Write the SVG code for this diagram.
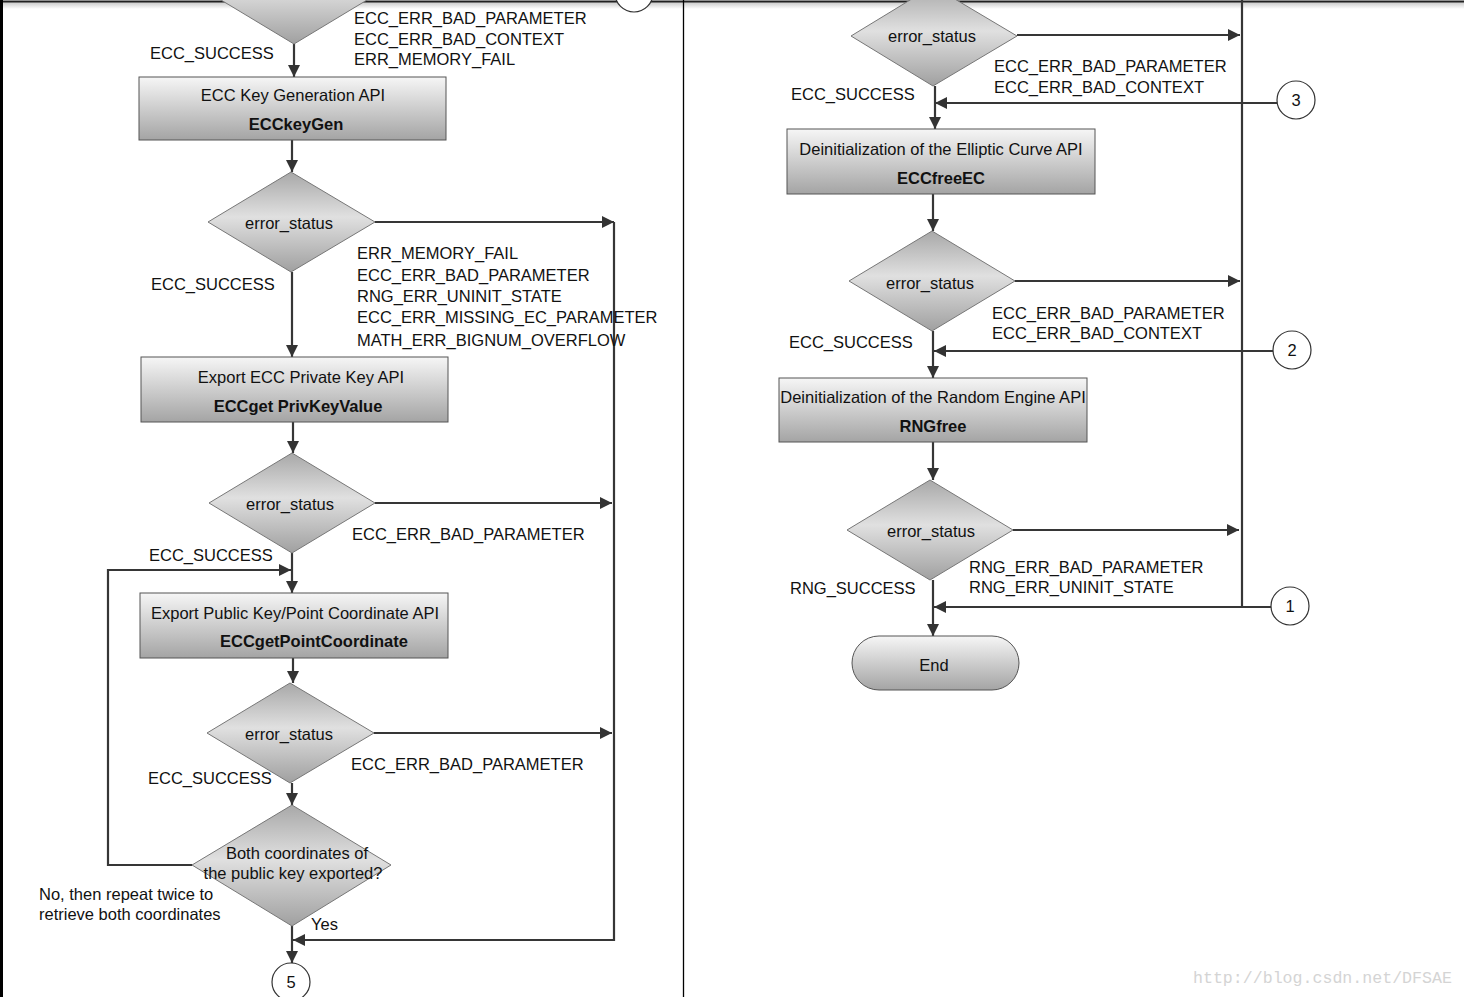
<svg xmlns="http://www.w3.org/2000/svg" width="1464" height="997" viewBox="0 0 1464 997">
<defs>
<linearGradient id="gBox" x1="0" y1="0" x2="0" y2="1">
<stop offset="0" stop-color="#f6f6f6"/>
<stop offset="1" stop-color="#a4a4a4"/>
</linearGradient>
<linearGradient id="gDia" x1="0" y1="0" x2="0" y2="1">
<stop offset="0" stop-color="#a8a8a8"/>
<stop offset="0.45" stop-color="#e0e0e0"/>
<stop offset="1" stop-color="#a0a0a0"/>
</linearGradient>
<linearGradient id="gTop" x1="0" y1="0" x2="0" y2="1">
<stop offset="0" stop-color="#c8c8c8"/>
<stop offset="1" stop-color="#ffffff"/>
</linearGradient>
<marker id="arr" viewBox="0 0 10 10" refX="10" refY="5" markerWidth="12" markerHeight="12" markerUnits="userSpaceOnUse" orient="auto">
<path d="M0,0 L10,5 L0,10 z" fill="#333"/>
</marker>
</defs>
<style>
text{font-family:"Liberation Sans",Arial,sans-serif;font-size:16.5px;fill:#111}
.c{text-anchor:middle}
.b{font-weight:bold}
.box{fill:url(#gBox);stroke:#555;stroke-width:1}
.dia{fill:url(#gDia);stroke:#777;stroke-width:1}
.circ{fill:#fff;stroke:#333;stroke-width:1.2}
.ln{fill:none;stroke:#363636;stroke-width:2.2}
.ar{marker-end:url(#arr)}
.wm{font-family:"Liberation Mono",monospace;font-size:16.6px;fill:#d4d4d4}
</style>
<rect x="0" y="0" width="1464" height="997" fill="#fff"/>
<rect x="0" y="2" width="1464" height="7" fill="url(#gTop)"/>
<line x1="0" y1="1.5" x2="1464" y2="1.5" stroke="#222" stroke-width="2"/>
<rect x="0" y="0" width="3" height="997" fill="#000"/>
<line x1="683.5" y1="0" x2="683.5" y2="997" stroke="#000" stroke-width="1.3"/>

<g id="connectors">
<path class="ln ar" d="M294,44 V77"/>
<path class="ln ar" d="M292,140 V172"/>
<path class="ln ar" d="M375,222 H614"/>
<path class="ln ar" d="M614,222 V940 H293"/>
<path class="ln ar" d="M292,272 V357"/>
<path class="ln ar" d="M293,422 V453"/>
<path class="ln ar" d="M375,503 H612"/>
<path class="ln ar" d="M292,553 V593"/>
<path class="ln ar" d="M192,865 H108 V570 H291"/>
<path class="ln ar" d="M293,658 V683"/>
<path class="ln ar" d="M374,733 H612"/>
<path class="ln ar" d="M292,783 V805"/>
<path class="ln ar" d="M292,926 V963"/>
<path class="ln ar" d="M1017,35 H1240"/>
<path class="ln" d="M1242,0 V607"/>
<path class="ln ar" d="M1277,103 H935"/>
<path class="ln ar" d="M935,86 V129"/>
<path class="ln ar" d="M933,194 V231"/>
<path class="ln ar" d="M1015,281 H1240"/>
<path class="ln ar" d="M1273,351 H934"/>
<path class="ln ar" d="M933,331 V378"/>
<path class="ln ar" d="M933,442 V480"/>
<path class="ln ar" d="M1013,530 H1239"/>
<path class="ln ar" d="M1271,607 H934"/>
<path class="ln ar" d="M933,580 V636"/>
</g>

<g id="dec0"><polygon class="dia" points="294,-56 377,-6 294,44 211,-6"/></g>
<g id="conTop"><circle class="circ" cx="634" cy="-7" r="19"/></g>

<g id="n1"><rect class="box" x="139" y="77" width="307" height="63"/>
<text class="c" x="293" y="101">ECC Key Generation API</text>
<text class="c b" x="296" y="130">ECCkeyGen</text></g>

<g id="dec1"><polygon class="dia" points="291,172 375,222 291,272 208,222"/>
<text class="c" x="289" y="229">error_status</text></g>

<g id="n2"><rect class="box" x="141" y="357" width="307" height="65"/>
<text class="c" x="301" y="383">Export ECC Private Key API</text>
<text class="c b" x="298" y="412">ECCget PrivKeyValue</text></g>

<g id="dec2"><polygon class="dia" points="292,453 375,503 292,553 209,503"/>
<text class="c" x="290" y="510">error_status</text></g>

<g id="n3"><rect class="box" x="140" y="593" width="308" height="65"/>
<text class="c" x="295" y="619">Export Public Key/Point Coordinate API</text>
<text class="c b" x="314" y="647">ECCgetPointCoordinate</text></g>

<g id="dec3"><polygon class="dia" points="290,683 374,733 290,783 207,733"/>
<text class="c" x="289" y="740">error_status</text></g>

<g id="dec4"><polygon class="dia" points="292,805 391,865 292,926 192,865"/>
<text class="c" x="297" y="859">Both coordinates of</text>
<text class="c" x="293" y="879">the public key exported?</text></g>

<g id="con5"><circle class="circ" cx="291" cy="982" r="19"/>
<text class="c" x="291" y="988">5</text></g>

<g id="labelsLeft">
<text x="354" y="24">ECC_ERR_BAD_PARAMETER</text>
<text x="354" y="45">ECC_ERR_BAD_CONTEXT</text>
<text x="354" y="65">ERR_MEMORY_FAIL</text>
<text x="150" y="59">ECC_SUCCESS</text>
<text x="357" y="259">ERR_MEMORY_FAIL</text>
<text x="357" y="281">ECC_ERR_BAD_PARAMETER</text>
<text x="357" y="302">RNG_ERR_UNINIT_STATE</text>
<text x="357" y="323">ECC_ERR_MISSING_EC_PARAMETER</text>
<text x="357" y="346">MATH_ERR_BIGNUM_OVERFLOW</text>
<text x="151" y="290">ECC_SUCCESS</text>
<text x="352" y="540">ECC_ERR_BAD_PARAMETER</text>
<text x="149" y="561">ECC_SUCCESS</text>
<text x="351" y="770">ECC_ERR_BAD_PARAMETER</text>
<text x="148" y="784">ECC_SUCCESS</text>
<text x="39" y="900">No, then repeat twice to</text>
<text x="39" y="920">retrieve both coordinates</text>
<text x="311" y="930">Yes</text>
</g>

<g id="decA"><polygon class="dia" points="933,-14 1017,36 933,86 851,36"/>
<text class="c" x="932" y="42">error_status</text></g>

<g id="con3"><circle class="circ" cx="1296" cy="100" r="19"/>
<text class="c" x="1296" y="106">3</text></g>

<g id="nR1"><rect class="box" x="787" y="129" width="308" height="65"/>
<text class="c" x="941" y="155">Deinitialization of the Elliptic Curve API</text>
<text class="c b" x="941" y="184">ECCfreeEC</text></g>

<g id="decB"><polygon class="dia" points="932,231 1015,281 932,331 849,281"/>
<text class="c" x="930" y="289">error_status</text></g>

<g id="con2"><circle class="circ" cx="1292" cy="350" r="19"/>
<text class="c" x="1292" y="356">2</text></g>

<g id="nR2"><rect class="box" x="779" y="378" width="308" height="64"/>
<text class="c" x="933" y="403">Deinitialization of the Random Engine API</text>
<text class="c b" x="933" y="432">RNGfree</text></g>

<g id="decC"><polygon class="dia" points="930,480 1013,530 930,580 847,530"/>
<text class="c" x="931" y="537">error_status</text></g>

<g id="con1"><circle class="circ" cx="1290" cy="606" r="19"/>
<text class="c" x="1290" y="612">1</text></g>

<g id="end"><rect class="box" x="852" y="636" width="167" height="54" rx="27" ry="27"/>
<text class="c" x="934" y="671">End</text></g>

<g id="labelsRight">
<text x="994" y="72">ECC_ERR_BAD_PARAMETER</text>
<text x="994" y="93">ECC_ERR_BAD_CONTEXT</text>
<text x="791" y="100">ECC_SUCCESS</text>
<text x="992" y="319">ECC_ERR_BAD_PARAMETER</text>
<text x="992" y="339">ECC_ERR_BAD_CONTEXT</text>
<text x="789" y="348">ECC_SUCCESS</text>
<text x="969" y="573">RNG_ERR_BAD_PARAMETER</text>
<text x="969" y="593">RNG_ERR_UNINIT_STATE</text>
<text x="790" y="594">RNG_SUCCESS</text>
</g>

<text class="wm" x="1193" y="983">http://blog.csdn.net/DFSAE</text>
</svg>
